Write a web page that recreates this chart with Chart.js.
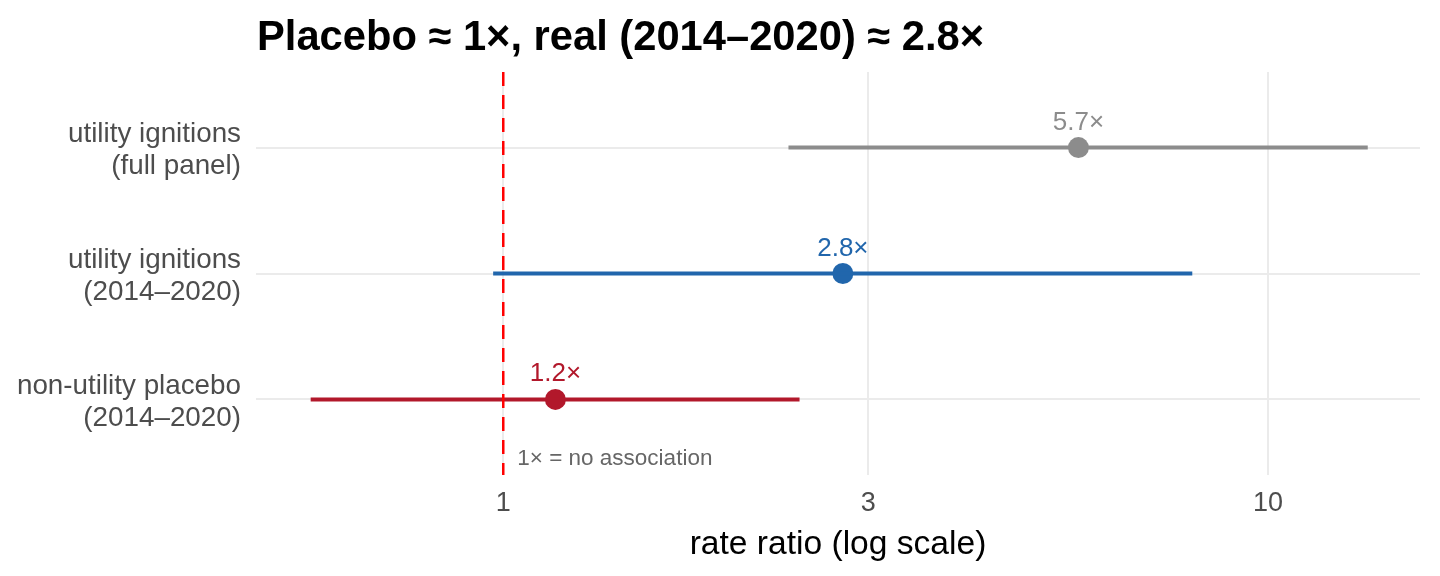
<!DOCTYPE html>
<html>
<head>
<meta charset="utf-8">
<script src="https://cdn.jsdelivr.net/npm/chart.js@4"></script>
<style>
  body { margin: 0; background: #fff; }
  #wrap { width: 1440px; height: 576px; position: relative; }
</style>
</head>
<body>
<div id="wrap"><canvas id="forest-chart"></canvas></div>
<script>
// Estimates (rate ratios) for each comparison, top to bottom
const rowLabels = [
    ['utility ignitions', '(full panel)'],
    ['utility ignitions', '(2014–2020)'],
    ['non-utility placebo', '(2014–2020)'],
];
const estimates = [5.65, 2.78, 1.17];
const lowerCI = [2.36, 0.97, 0.56];
const upperCI = [13.5, 7.96, 2.44];
const pointLabels = ['5.7×', '2.8×', '1.2×'];
const rowColors = ['#8c8c8c', '#2166ac', '#b2182b'];
const xTicks = [1, 3, 10];

const FONT = '"Liberation Sans", Arial, sans-serif';

// one line dataset per interval, then the point estimates
const datasets = rowLabels.map((_, i) => ({
    data: [{ x: lowerCI[i], y: i }, { x: upperCI[i], y: i }],
    showLine: true,
    borderColor: rowColors[i],
    borderWidth: 4,
    pointRadius: 0,
}));
datasets.push({
    data: estimates.map((v, i) => ({ x: v, y: i })),
    showLine: false,
    pointRadius: 10.5,
    pointBackgroundColor: rowColors,
    pointBorderWidth: 0,
});

// reference line at 1, annotation, point labels, axis title and title
const extras = {
    id: 'extras',
    afterDatasetsDraw(chart) {
        const { ctx, chartArea, scales } = chart;
        const x1 = scales.x.getPixelForValue(1);
        ctx.save();
        ctx.strokeStyle = '#ff0000';
        ctx.lineWidth = 2.5;
        ctx.setLineDash([14, 9]);
        ctx.beginPath();
        ctx.moveTo(x1, chartArea.top);
        ctx.lineTo(x1, chartArea.bottom);
        ctx.stroke();
        ctx.setLineDash([]);

        ctx.textBaseline = 'alphabetic';
        ctx.font = '22.5px ' + FONT;
        ctx.fillStyle = '#666666';
        ctx.textAlign = 'left';
        ctx.fillText('1× = no association', x1 + 14, 465);

        ctx.font = '26px ' + FONT;
        ctx.textAlign = 'center';
        estimates.forEach((v, i) => {
            ctx.fillStyle = rowColors[i];
            ctx.fillText(pointLabels[i], scales.x.getPixelForValue(v), scales.y.getPixelForValue(i) - 18);
        });

        ctx.font = '33.6px ' + FONT;
        ctx.fillStyle = '#000';
        ctx.fillText('rate ratio (log scale)', (chartArea.left + chartArea.right) / 2, 554);

        ctx.font = 'bold 41.7px ' + FONT;
        ctx.textAlign = 'left';
        ctx.fillText('Placebo ≈ 1×, real (2014–2020) ≈ 2.8×', chartArea.left + 1, 50);
        ctx.restore();
    },
};

const ctx = document.getElementById('forest-chart').getContext('2d');
const forestChart = new Chart(ctx, {
    type: 'scatter',
    data: { datasets },
    options: {
        responsive: true,
        maintainAspectRatio: false,
        animation: false,
        layout: { padding: { top: 72, right: 20, left: 0, bottom: 0 } },
        scales: {
            x: {
                type: 'logarithmic',
                min: 0.475,
                max: 15.8,
                afterBuildTicks: scale => { scale.ticks = xTicks.map(v => ({ value: v })); },
                afterFit: scale => { scale.height = 101; },
                grid: { color: '#ebebeb', lineWidth: 2, drawTicks: false },
                border: { display: false },
                ticks: {
                    padding: 12,
                    color: '#4d4d4d',
                    font: { family: FONT, size: 27 },
                    callback: v => String(v),
                },
            },
            y: {
                type: 'linear',
                reverse: true,
                min: -0.6,
                max: 2.6,
                afterBuildTicks: scale => { scale.ticks = rowLabels.map((_, i) => ({ value: i })); },
                afterFit: scale => { scale.width = 256; },
                grid: { color: '#ebebeb', lineWidth: 2, drawTicks: false },
                border: { display: false },
                ticks: {
                    padding: 15,
                    labelOffset: 3,
                    color: '#4d4d4d',
                    font: { family: FONT, size: 27.8, lineHeight: 1.14 },
                    callback: v => rowLabels[v],
                },
            },
        },
        plugins: {
            legend: { display: false },
            tooltip: { enabled: false },
        },
    },
    plugins: [extras],
});
</script>
</body>
</html>
